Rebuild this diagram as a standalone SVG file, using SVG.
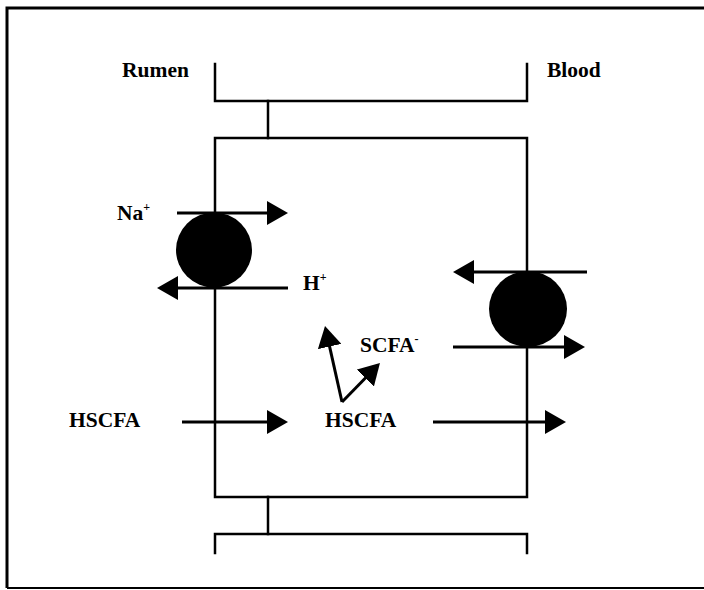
<svg xmlns="http://www.w3.org/2000/svg" width="704" height="590" viewBox="0 0 704 590">
<style>
.t{font-family:"Liberation Serif","Times New Roman",serif;font-weight:bold;font-size:21.5px;fill:#000}
.sup{font-size:12px}
.m{fill:none;stroke:#000;stroke-width:2.5;stroke-linecap:square}
.a{fill:none;stroke:#000;stroke-width:3;marker-end:url(#ah)}
.tr{fill:#000}
</style>
<defs>
<marker id="ah" markerUnits="userSpaceOnUse" viewBox="0 0 21 24" refX="11" refY="12" markerWidth="21" markerHeight="24" orient="auto">
<path d="M0,0 L21,12 L0,24 Z" fill="#000"/>
</marker>
</defs>
<rect width="704" height="590" fill="#fff"/>
<g id="frame">
<path d="M7,588 L7,8 L704,8" fill="none" stroke="#000" stroke-width="3"/>
<path d="M7,588 L704,588" fill="none" stroke="#000" stroke-width="2"/>
</g>
<g id="membrane-top">
<path class="m" d="M215,64 L215,101 L527,101 L527,64"/>
<path class="m" d="M268,101 L268,138"/>
</g>
<g id="cell">
<rect class="m" x="215" y="138" width="312" height="359"/>
</g>
<g id="membrane-bottom">
<path class="m" d="M268,497 L268,534"/>
<path class="m" d="M215,553 L215,534 L527,534 L527,553"/>
</g>
<g id="labels">
<text class="t" x="122" y="77">Rumen</text>
<text class="t" x="547" y="77">Blood</text>
<text class="t" x="117" y="220">Na<tspan class="sup" dy="-9">+</tspan></text>
<text class="t" x="303" y="290">H<tspan class="sup" dy="-9">+</tspan></text>
<text class="t" x="360" y="352">SCFA<tspan class="sup" dy="-9">-</tspan></text>
<text class="t" x="69" y="427">HSCFA</text>
<text class="t" x="325" y="427">HSCFA</text>
</g>
<g id="transporter-apical">
<ellipse class="tr" cx="214" cy="250" rx="38" ry="37.5"/>
</g>
<g id="transporter-basolateral">
<ellipse class="tr" cx="528" cy="309" rx="39" ry="38"/>
</g>
<g id="connectors">
<line class="a" x1="177" y1="213" x2="278" y2="213"/>
<line class="a" x1="288" y1="288" x2="167" y2="288"/>
<line class="a" x1="587" y1="272" x2="463" y2="272"/>
<line class="a" x1="453" y1="347" x2="575" y2="347"/>
<line class="a" x1="182" y1="422" x2="278" y2="422"/>
<line class="a" x1="433" y1="422" x2="556" y2="422"/>
<line class="a" x1="342" y1="402" x2="327.2" y2="335.8"/>
<line class="a" x1="342" y1="402" x2="373" y2="370.2"/>
</g>
</svg>
